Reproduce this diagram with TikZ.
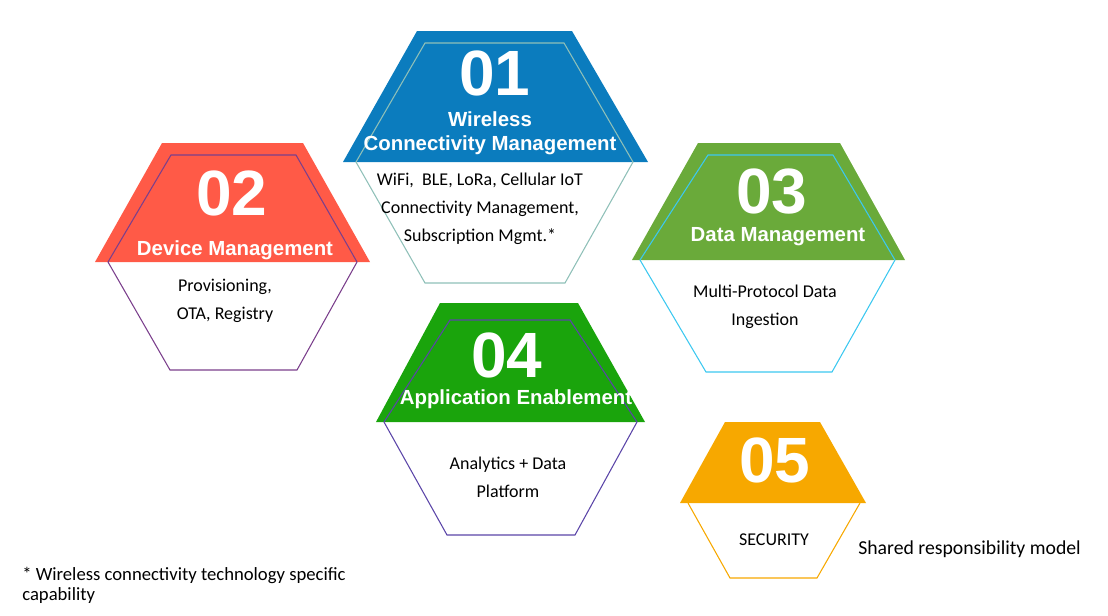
\documentclass[tikz,border=0pt]{standalone}
\usepackage{fontspec}
\setmainfont{Carlito}
\newfontfamily\hdr{Liberation Sans}
\begin{document}
\begin{tikzpicture}[x=0.75pt,y=-0.75pt,
  num/.style={font=\hdr\bfseries\fontsize{48}{48}\selectfont,text=white,inner sep=0},
  hd/.style={font=\hdr\bfseries\fontsize{15.3}{18}\selectfont,text=white,inner sep=0,align=center},
  bd/.style={font=\fontsize{13.5}{21}\selectfont,inner sep=0,align=center},
  hexline/.style={line width=0.8pt}]
\useasboundingbox (0,0) rectangle (1108,615);
\definecolor{cA}{HTML}{0B7CBE}\definecolor{lA}{HTML}{8FC0B8}
\definecolor{cB}{HTML}{FF5A47}\definecolor{lB}{HTML}{7B3F8C}
\definecolor{cC}{HTML}{6AAA3A}\definecolor{lC}{HTML}{3CC8F0}
\definecolor{cD}{HTML}{1AA40C}\definecolor{lD}{HTML}{5B45A8}
\definecolor{cE}{HTML}{F7A800}
% 01
\fill[cA] (417,31)--(572,31)--(648,162)--(343,162)--cycle;
\draw[hexline,lA] (425,43)--(564,43)--(633,162)--(565,283)--(425,283)--(356,162)--cycle;
% 02
\fill[cB] (162,143)--(303,143)--(370,262)--(95,262)--cycle;
\draw[hexline,lB] (171,155)--(296,155)--(357,262)--(297,370)--(170,370)--(108,262)--cycle;
% 03
\fill[cC] (698,143)--(840,143)--(905,260)--(632,260)--cycle;
\draw[hexline,lC] (708,155)--(833,155)--(895,260)--(832,372)--(706,372)--(640,260)--cycle;
% 04
\fill[cD] (440,303)--(578,303)--(645,422)--(376,422)--cycle;
\draw[hexline,lD] (450,320)--(570,320)--(637,422)--(575,535)--(447,535)--(384,422)--cycle;
% 05
\fill[cE] (725,422)--(820,422)--(866,503)--(680,503)--cycle;
\draw[hexline,cE] (688,503)--(730,578)--(817,578)--(860,503);
% texts
\node[num] (n1) at (495,73) {01};
\node[hd] (h1) at (490,133) {Wireless\\Connectivity Management};
\node[bd] (b1) at (480,209) {WiFi,\ \ BLE, LoRa, Cellular IoT\\Connectivity Management,\\Subscription Mgmt.*};
\node[num] (n2) at (232,193) {02};
\node[hd] (h2) at (235,250) {Device Management};
\node[bd] (b2) at (225,301) {Provisioning,\\OTA, Registry};
\node[num] (n3) at (772,192) {03};
\node[hd] (h3) at (778,237) {Data Management};
\node[bd] (b3) at (765,307) {Multi-Protocol Data\\Ingestion};
\node[num] (n4) at (507,355) {04};
\node[hd] (h4) at (516,399) {Application Enablement};
\node[bd] (b4) at (508,477) {Analytics + Data\\Platform};
\node[num] (n5) at (775,460) {05};
\node[bd] (b5) at (774,540) {SECURITY};
\node[bd,anchor=west,font=\fontsize{14.8}{18}\selectfont] (s5) at (858,549) {Shared responsibility model};
\node[bd,anchor=west,align=left,font=\fontsize{14}{15}\selectfont] (fn) at (22,585) {* Wireless connectivity technology specific\\capability};
\end{tikzpicture}
\end{document}
